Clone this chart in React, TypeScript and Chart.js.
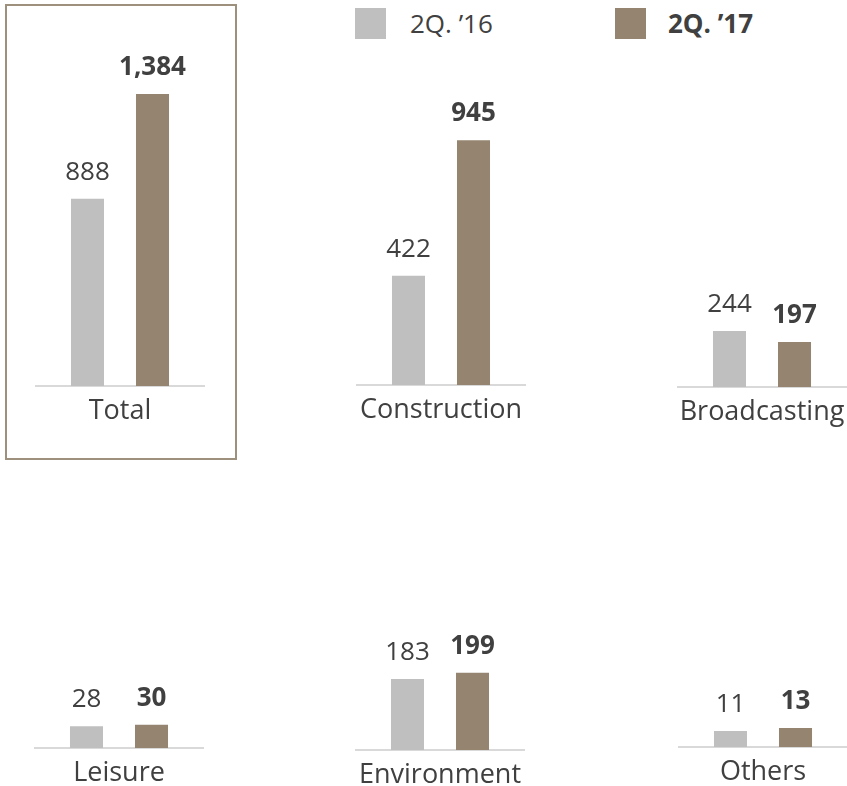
import React, { useEffect, useRef } from 'react';
import { Chart, registerables } from 'chart.js';

Chart.register(...registerables);

// ---- data ----
const categories = ['Total', 'Construction', 'Broadcasting', 'Leisure', 'Environment', 'Others'];
const seriesNames = ['2Q. ’16', '2Q. ’17'];
const values2Q16 = [888, 422, 244, 28, 183, 11];
const values2Q17 = [1384, 945, 197, 30, 199, 13];
// each small panel has its own value scale
const axisMax = [1640, 1332, 1515, 191, 387, 101];

// ---- layout / style ----
const panelLeft = [36, 357, 678, 35, 356, 679];
const panelTop = [40, 40, 40, 600, 600, 600];
const panelBaseline = [386, 385, 387, 748, 750, 747];
const AXIS_W = 168;
const PAD = 20;
const XAXIS_H = 50;
const FONT = '"Open Sans", "Noto Sans", sans-serif';
const GRAY = '#bfbfbf';
const BROWN = '#948470';
const TEXT = '#404040';

const valueLabelPlugin = {
  id: 'valueLabels',
  afterDatasetsDraw(chart: any) {
    const ctx = chart.ctx;
    chart.data.datasets.forEach((ds: any, i: number) => {
      const meta = chart.getDatasetMeta(i);
      meta.data.forEach((el: any, j: number) => {
        const v = ds.data[j];
        ctx.save();
        ctx.font = `${i === 1 ? 'bold ' : ''}26px ${FONT}`;
        ctx.fillStyle = TEXT;
        ctx.textAlign = 'center';
        ctx.textBaseline = 'alphabetic';
        ctx.fillText(Number(v).toLocaleString('en-US'), el.x, el.y - 19);
        ctx.restore();
      });
    });
  },
};

function Panel({ idx }: { idx: number }) {
  const ref = useRef<HTMLCanvasElement>(null);
  const width = AXIS_W + PAD * 2;
  const height = panelBaseline[idx] - panelTop[idx] + XAXIS_H;
  useEffect(() => {
    if (!ref.current) return;
    const chart = new Chart(ref.current, {
      type: 'bar',
      data: {
        labels: [categories[idx]],
        datasets: [
          {
            label: seriesNames[0],
            data: [values2Q16[idx]],
            backgroundColor: GRAY,
            categoryPercentage: 0.774,
            barPercentage: 0.508,
          },
          {
            label: seriesNames[1],
            data: [values2Q17[idx]],
            backgroundColor: BROWN,
            categoryPercentage: 0.774,
            barPercentage: 0.508,
          },
        ],
      },
      options: {
        animation: false,
        responsive: false,
        maintainAspectRatio: false,
        layout: { padding: { left: PAD, right: PAD, top: 0, bottom: 0 } },
        plugins: { legend: { display: false }, tooltip: { enabled: false } },
        scales: {
          x: {
            grid: { display: false, drawTicks: false },
            border: { display: true, color: '#d9d9d9', width: 2 },
            ticks: {
              font: { family: FONT, size: 27 },
              color: TEXT,
              padding: 9,
              maxRotation: 0,
              minRotation: 0,
            },
            afterFit: (s: any) => {
              s.height = XAXIS_H;
            },
          },
          y: { display: false, min: 0, max: axisMax[idx] },
        },
      },
      plugins: [valueLabelPlugin],
    } as any);
    return () => chart.destroy();
  }, [idx]);
  return (
    <canvas
      ref={ref}
      width={width}
      height={height}
      style={{
        position: 'absolute',
        left: panelLeft[idx] - PAD,
        top: panelTop[idx],
        width,
        height,
      }}
    />
  );
}

export default function App() {
  const legendText: React.CSSProperties = {
    position: 'absolute',
    top: 6,
    fontFamily: FONT,
    fontSize: 26,
    lineHeight: '34px',
    color: TEXT,
    whiteSpace: 'nowrap',
  };
  return (
    <div
      style={{
        position: 'fixed',
        left: 0,
        top: 0,
        width: 847,
        height: 786,
        background: '#fff',
        overflow: 'hidden',
      }}
    >
      <div
        style={{
          position: 'absolute',
          left: 5,
          top: 4,
          width: 232,
          height: 456,
          boxSizing: 'border-box',
          border: '2px solid #9d917e',
        }}
      />
      <div style={{ position: 'absolute', left: 355, top: 8, width: 31, height: 31, background: GRAY }} />
      <div style={{ ...legendText, left: 410 }}>{seriesNames[0]}</div>
      <div style={{ position: 'absolute', left: 615, top: 8, width: 31, height: 31, background: BROWN }} />
      <div style={{ ...legendText, left: 668, fontWeight: 'bold' }}>{seriesNames[1]}</div>
      {categories.map((_, i) => (
        <Panel key={i} idx={i} />
      ))}
    </div>
  );
}
